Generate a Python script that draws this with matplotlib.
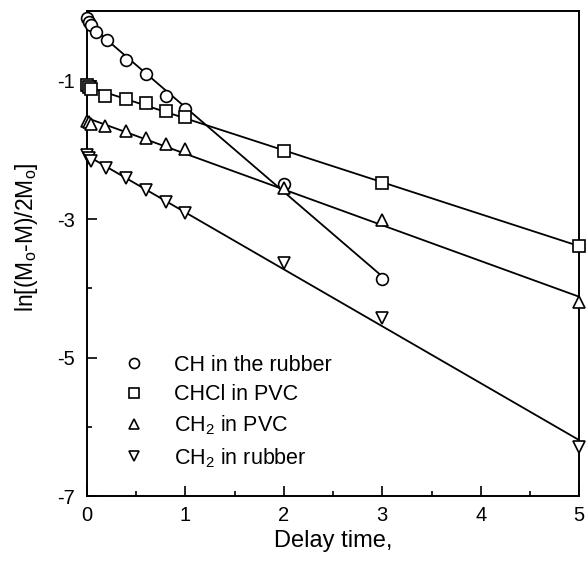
import numpy as np
import matplotlib
matplotlib.use("Agg")
import matplotlib.pyplot as plt
from matplotlib.ticker import MultipleLocator

plt.rcParams['font.family'] = ['Liberation Sans', 'DejaVu Sans']
plt.rcParams['mathtext.default'] = 'regular'
plt.rcParams['axes.unicode_minus'] = False

# data (delay time, ln value)
t_ch_rubber = [0.0, 0.02, 0.04, 0.09, 0.2, 0.4, 0.6, 0.8, 1.0, 2.0, 3.0]
y_ch_rubber = [-0.10, -0.15, -0.20, -0.30, -0.42, -0.71, -0.90, -1.23, -1.41, -2.50, -3.86]

t_chcl_pvc = [0.0, 0.02, 0.04, 0.18, 0.4, 0.6, 0.8, 1.0, 2.0, 3.0, 5.0]
y_chcl_pvc = [-1.07, -1.10, -1.12, -1.22, -1.26, -1.33, -1.44, -1.53, -2.01, -2.48, -3.39]

t_ch2_pvc = [0.0, 0.02, 0.04, 0.18, 0.4, 0.6, 0.8, 1.0, 2.0, 3.0, 5.0]
y_ch2_pvc = [-1.58, -1.60, -1.63, -1.65, -1.73, -1.83, -1.91, -1.99, -2.55, -3.01, -4.20]

t_ch2_rubber = [0.0, 0.02, 0.04, 0.19, 0.4, 0.6, 0.8, 1.0, 2.0, 3.0, 5.0]
y_ch2_rubber = [-2.08, -2.12, -2.16, -2.26, -2.41, -2.58, -2.75, -2.91, -3.64, -4.43, -6.29]

labels = ['CH in the rubber', 'CHCl in PVC', 'CH$_2$ in PVC', 'CH$_2$ in rubber']
markers = ['o', 's', '^', 'v']

series = [(t_ch_rubber, y_ch_rubber), (t_chcl_pvc, y_chcl_pvc),
          (t_ch2_pvc, y_ch2_pvc), (t_ch2_rubber, y_ch2_rubber)]

fig = plt.figure(figsize=(5.88, 5.62), dpi=100)
ax = fig.add_axes([0.148, 0.117, 0.837, 0.863])

for (t, y), lab, m in zip(series, labels, markers):
    t = np.array(t)
    y = np.array(y)
    # straight line fit through each series
    k, b = np.polyfit(t, y, 1)
    tt = np.array([0, t.max()])
    ax.plot(tt, k * tt + b, color='k', lw=1.3, zorder=2)
    ax.plot(t, y, linestyle='none', marker=m, markersize=8.5,
            markerfacecolor='white', markeredgecolor='k',
            markeredgewidth=1.2, label=lab, zorder=3, clip_on=False)

ax.set_xlim(0, 5)
ax.set_ylim(-7, 0)
ax.xaxis.set_major_locator(MultipleLocator(1))
ax.xaxis.set_minor_locator(MultipleLocator(0.5))
ax.yaxis.set_major_locator(MultipleLocator(2, offset=1))
ax.yaxis.set_minor_locator(MultipleLocator(1))
ax.tick_params(which='both', direction='in', labelsize=14.5, width=1.2)
ax.tick_params(which='major', length=7)
ax.tick_params(which='minor', length=3.5)
ax.tick_params(axis='x', pad=7)
ax.tick_params(axis='y', pad=9)
for s in ax.spines.values():
    s.set_linewidth(1.4)

ax.set_xlabel('Delay time,', fontsize=17)
ax.xaxis.set_label_coords(0.5, -0.07)
ax.set_ylabel('ln[(M$_o$-M)/2M$_o$]', fontsize=16.5)
ax.yaxis.set_label_coords(-0.095, 0.534)

leg = ax.legend(loc='lower left', bbox_to_anchor=(0.07, 0.055), frameon=False,
                fontsize=15.5, handletextpad=1.25, labelspacing=0.4,
                handlelength=1.2, markerscale=0.85, borderpad=0,
                borderaxespad=0)

fig.savefig('out.png', dpi=100)
